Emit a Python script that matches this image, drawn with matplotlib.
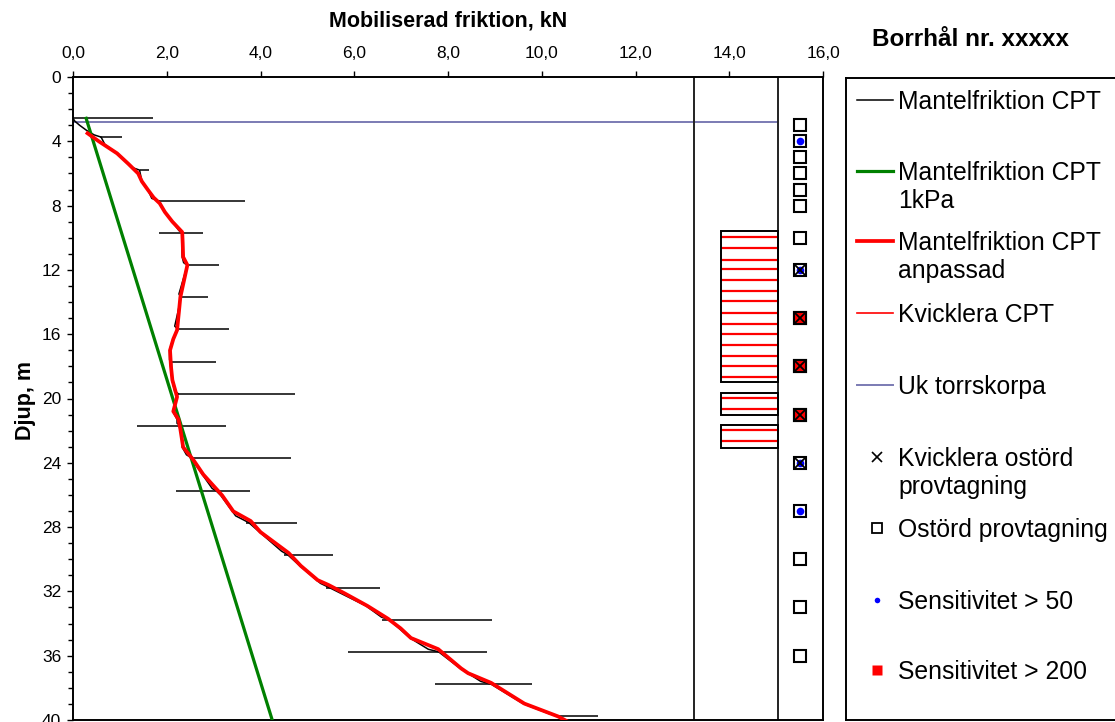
import matplotlib
matplotlib.use('agg')
import matplotlib.pyplot as plt
from matplotlib.patches import Rectangle
from matplotlib.ticker import MultipleLocator, FuncFormatter

plt.rcParams['font.family'] = ['Liberation Sans', 'DejaVu Sans']

# Mantelfriktion CPT anpassad (depth m, force kN)
red_depth = [3.5, 4.0, 4.75, 5.4, 6.0, 6.5, 7.03, 7.5, 7.86, 8.4, 9.0, 9.65, 10.3, 11.2,
             11.7, 12.5, 13.7, 14.6, 15.75, 16.3, 17.0, 18.0, 18.85, 19.9, 20.8, 21.3,
             21.9, 23.03, 23.83, 24.73, 25.02, 26.02, 27.02, 27.62, 28.31, 29.61, 30.41,
             31.3, 31.6, 32.1, 32.9, 33.7, 34.3, 34.9, 35.59, 36.79, 37.09, 37.69, 38.98,
             39.78, 40.17]
red_force = [0.31, 0.55, 0.94, 1.18, 1.39, 1.47, 1.6, 1.72, 1.85, 1.96, 2.12, 2.33, 2.34, 2.35,
             2.44, 2.38, 2.29, 2.26, 2.22, 2.14, 2.07, 2.09, 2.12, 2.22, 2.14, 2.25,
             2.29, 2.35, 2.57, 2.78, 2.87, 3.18, 3.42, 3.79, 4.0, 4.6, 4.86,
             5.22, 5.45, 5.78, 6.28, 6.72, 6.99, 7.21, 7.79, 8.28, 8.43, 8.92, 9.63,
             10.35, 10.6]

# Mantelfriktion CPT, raw sounding
cpt_depth = [2.57, 2.75, 3.0, 3.3, 3.6, 3.74, 4.2, 4.75, 5.4, 5.65, 5.79, 6.5, 7.03, 7.55,
             7.72, 8.4, 9.0, 9.55, 9.7, 10.3, 11.2, 11.55, 11.71, 12.5, 13.5, 13.71, 14.6,
             15.5, 15.7, 16.3, 17.0, 17.6, 17.76, 18.85, 19.55, 19.69, 20.8, 21.3, 21.55,
             21.68, 23.03, 23.5, 23.68, 24.73, 25.6, 25.73, 26.02, 27.3, 27.72, 28.31,
             29.5, 29.72, 30.41, 31.5, 31.78, 32.9, 33.6, 33.77, 34.9, 35.6, 35.76, 36.79,
             37.6, 37.77, 38.98, 39.6, 39.75, 40.17]
cpt_force = [0.0, 0.04, 0.14, 0.28, 0.45, 0.6, 0.68, 0.94, 1.18, 1.28, 1.42, 1.47, 1.6, 1.68,
             1.84, 1.96, 2.12, 2.26, 2.32, 2.32, 2.33, 2.36, 2.44, 2.36, 2.26, 2.3, 2.24,
             2.17, 2.24, 2.13, 2.06, 2.06, 2.1, 2.11, 2.17, 2.24, 2.13, 2.22, 2.22,
             2.3, 2.33, 2.42, 2.52, 2.76, 2.97, 3.05, 3.15, 3.47, 3.75, 3.98,
             4.45, 4.58, 4.84, 5.28, 5.48, 6.25, 6.58, 6.75, 7.19, 7.58, 7.8, 8.26,
             8.7, 8.92, 9.6, 10.15, 10.35, 10.58]

# peaks at the rod joints
spike_depth = [2.57, 3.74, 5.79, 7.72, 9.7, 11.71, 13.71, 15.7, 17.76, 19.69, 21.68, 23.68,
               25.73, 27.72, 29.72, 31.78, 33.77, 35.76, 37.77, 39.75]
spike_min = [0.0, 0.58, 1.42, 1.84, 1.84, 2.40, 2.28, 2.20, 2.08, 2.20, 1.37, 2.50,
             2.20, 3.70, 4.50, 5.40, 6.60, 5.86, 7.72, 10.3]
spike_max = [1.71, 1.05, 1.63, 3.66, 2.78, 3.12, 2.89, 3.32, 3.04, 4.73, 3.27, 4.64,
             3.77, 4.77, 5.54, 6.55, 8.94, 8.83, 9.80, 11.2]

# Mantelfriktion CPT 1kPa
green_depth = [2.57, 40.0]
green_force = [0.28, 4.25]

# Uk torrskorpa
torrskorpa_depth = 2.82

# Kvicklera CPT intervals
kvick_top = [9.6, 19.63, 21.62]
kvick_bottom = [19.0, 21.0, 23.05]
kvick_lines = [9.95, 10.64, 11.36, 11.96, 12.65, 13.33, 13.96, 14.66, 15.35, 15.97,
               16.66, 17.36, 17.99, 18.67, 19.98, 20.64, 21.95, 22.62]

# samples
sample_depth = [3, 4, 5, 6, 7, 8, 10, 12, 15, 18, 21, 24, 27, 30, 33, 36]
kvick_sample_depth = [12, 15, 18, 21, 24]
sens50_depth = [4, 12, 24, 27]
sens200_depth = [15, 18, 21]

col_kvick_left = 13.82
col_kvick_right = 15.05
col_divider = 13.25
col_sample = 15.5

W, H = 1115, 722
fig = plt.figure(figsize=(W / 100, H / 100), dpi=100)

ax = fig.add_axes([73 / W, 2 / H, 750 / W, 643 / H])
ax.set_xlim(0, 16)
ax.set_ylim(40, 0)

ax.plot(cpt_force, cpt_depth, color='black', lw=1.1, zorder=3)
ax.hlines(spike_depth, spike_min, spike_max, color='black', lw=1.1, zorder=3)
ax.plot(green_force, green_depth, color='#008000', lw=2.3, zorder=4)
ax.plot(red_force, red_depth, color='#ff0000', lw=2.7, zorder=5)
ax.hlines(torrskorpa_depth, 0, col_kvick_right, color='#7b7bb3', lw=1.4, zorder=2)

ax.axvline(col_divider, color='#222222', lw=1.4)
ax.axvline(col_kvick_right, color='#222222', lw=1.4)

for top, bot in zip(kvick_top, kvick_bottom):
    ax.add_patch(Rectangle((col_kvick_left, top), col_kvick_right - col_kvick_left,
                           bot - top, fill=False, ec='black', lw=1.4, zorder=3))
ax.hlines(kvick_lines, col_kvick_left, col_kvick_right, color='#ff0000', lw=1.6, zorder=2)

ax.plot([col_sample] * len(sample_depth), sample_depth, 's', ms=8.5, mfc='white',
        mec='black', mew=1.5, zorder=6)
ax.plot([col_sample] * len(sens200_depth), sens200_depth, 's', ms=8.5, mfc='#ff0000',
        mec='black', mew=1.5, zorder=7)
ax.plot([col_sample] * len(sens50_depth), sens50_depth, 'o', ms=5.5, mfc='#0000ff',
        mec='none', zorder=8)
ax.plot([col_sample] * len(kvick_sample_depth), kvick_sample_depth, 'x', ms=7.5,
        color='black', mew=1.3, zorder=9)

ax.xaxis.tick_top()
ax.xaxis.set_major_locator(MultipleLocator(2))
ax.xaxis.set_major_formatter(FuncFormatter(lambda v, p: ('%.1f' % v).replace('.', ',')))
ax.yaxis.set_major_locator(MultipleLocator(4))
ax.yaxis.set_minor_locator(MultipleLocator(1))
ax.tick_params(axis='x', direction='out', length=4, width=1, labelsize=12.5, pad=7.5)
ax.tick_params(axis='y', which='major', direction='out', length=4.5, width=1,
               labelsize=12.5, pad=4)
ax.tick_params(axis='y', which='minor', direction='out', length=3.5, width=1)
for s in ax.spines.values():
    s.set_linewidth(1.4)

fig.text(448 / W, 1 - 21 / H, 'Mobiliserad friktion, kN', ha='center', va='center',
         fontsize=15.5, fontweight='bold')
fig.text(25 / W, 1 - 400 / H, 'Djup, m', ha='center', va='center', rotation=90,
         fontsize=15.5, fontweight='bold')
fig.text(970 / W, 1 - 40 / H, 'Borrhål nr. xxxxx', ha='center', va='center',
         fontsize=17.5, fontweight='bold')

# legend box, laid out in pixel units
lax = fig.add_axes([846 / W, 2 / H, (1200 - 846) / W, 642 / H])
lax.set_xlim(846, 1200)
lax.set_ylim(720, 78)
lax.set_xticks([])
lax.set_yticks([])
for s in lax.spines.values():
    s.set_linewidth(1.4)

fs = 17.8
base = 8.8


def entry_text(y, lines):
    for i, t in enumerate(lines):
        lax.text(898, y + base + 28 * i, t, fontsize=fs, va='baseline', ha='left')


lax.plot([857, 893], [100, 100], color='black', lw=1.1)
entry_text(100, ['Mantelfriktion CPT'])
lax.plot([857, 893], [171, 171], color='#008000', lw=2.3)
entry_text(171, ['Mantelfriktion CPT', '1kPa'])
lax.plot([857, 893], [241, 241], color='#ff0000', lw=2.7)
entry_text(241, ['Mantelfriktion CPT', 'anpassad'])
lax.plot([857, 893], [313, 313], color='#ff0000', lw=1.2)
entry_text(313, ['Kvicklera CPT'])
lax.plot([857, 893], [385, 385], color='#7b7bb3', lw=1.4)
entry_text(385, ['Uk torrskorpa'])
lax.plot([877], [457], 'x', ms=7, color='black', mew=1.2)
entry_text(457, ['Kvicklera ostörd', 'provtagning'])
lax.plot([877], [528], 's', ms=7, mfc='white', mec='black', mew=1.3)
entry_text(528, ['Ostörd provtagning'])
lax.plot([877], [600], 'o', ms=4, mfc='#0000ff', mec='none')
entry_text(600, ['Sensitivitet > 50'])
lax.plot([877], [670], 's', ms=7, mfc='#ff0000', mec='none')
entry_text(670, ['Sensitivitet > 200'])

fig.savefig('out.png', dpi=100)
